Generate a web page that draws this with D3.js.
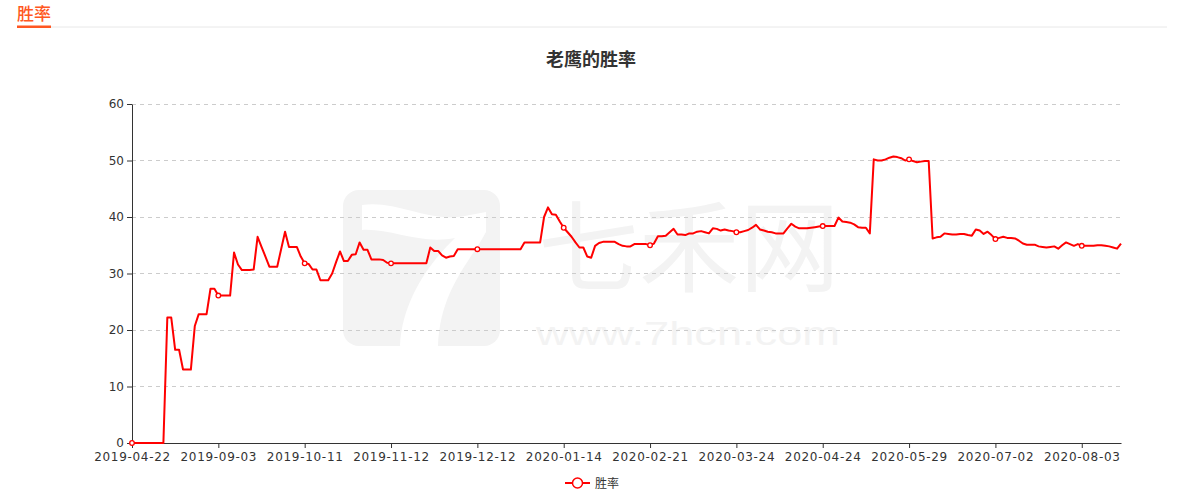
<!DOCTYPE html>
<html><head><meta charset="utf-8">
<script src="https://cdn.jsdelivr.net/npm/d3@7"></script>
<style>
body{margin:0;background:#fff;}
svg{display:block;font-family:"Noto Sans CJK SC","Noto Sans",sans-serif;}
</style>
</head><body>
<svg id="c" width="1180" height="500"></svg>
<script>
const headerText = "胜率";
const chartTitle = "老鹰的胜率";
const seriesName = "胜率";
const tickLabels = ["2019-04-22","2019-09-03","2019-10-11","2019-11-12","2019-12-12","2020-01-14","2020-02-21","2020-03-24","2020-04-24","2020-05-29","2020-07-02","2020-08-03"];
const labelInterval = 22;
const yTicks = [0,10,20,30,40,50,60];
const winRate = [
  0,0,0,0,0,0,0,0,0,
  22.2,22.2,16.5,16.5,13.0,13.0,13.0,20.7,22.8,22.8,22.8,27.3,27.3,
  26.1,26.1,26.1,26.1,33.7,31.6,30.6,30.6,30.6,30.7,
  36.5,34.7,33.0,31.2,31.2,31.2,34.3,37.4,34.7,34.7,34.7,33.0,
  31.8,31.7,30.7,30.7,28.8,28.8,28.8,30.0,32.0,33.9,32.2,32.2,
  33.3,33.4,35.5,34.2,34.2,32.5,32.5,32.5,32.4,31.9,
  31.8,31.8,31.8,31.8,31.8,31.8,31.8,31.8,31.8,31.8,
  34.6,34.0,34.0,33.2,32.8,33.0,33.1,34.3,
  34.3,34.3,34.3,34.3,34.3,34.3,34.3,34.3,34.3,34.3,34.3,34.3,34.3,34.3,34.3,34.3,
  35.5,35.5,35.5,35.5,35.5,
  40.0,41.7,40.5,40.4,39.2,38.1,37.3,36.5,35.5,34.6,34.6,33.0,32.8,
  34.9,35.4,35.6,35.6,35.6,35.6,35.2,34.9,34.8,34.8,35.2,35.2,35.2,35.2,35.0,35.3,
  36.6,36.6,36.7,37.3,37.9,36.9,36.9,36.8,37.1,37.1,37.4,37.5,37.3,37.1,38.0,37.9,37.6,37.8,37.6,37.5,37.3,
  37.3,37.5,37.7,38.1,38.6,37.8,37.6,37.4,37.3,37.1,37.1,37.1,38.0,38.8,38.3,38.0,38.0,38.0,38.1,38.2,38.3,38.4,38.4,38.4,38.4,39.9,39.2,39.1,39.0,38.7,38.2,38.1,38.1,37.1,
  50.2,50.0,50.0,50.2,50.5,50.7,50.6,50.4,50.0,50.2,49.9,49.7,49.8,49.9,49.9,
  36.2,36.4,36.5,37.1,37.0,36.9,36.9,37.0,37.0,36.8,36.7,37.8,37.6,37.0,37.4,36.8,36.1,
  36.3,36.5,36.3,36.3,36.2,35.8,35.3,35.1,35.1,35.1,34.8,34.7,34.6,34.7,34.8,34.4,35.0,35.5,35.2,34.9,35.2,34.9,34.9,34.9,34.9,35.0,35.0,34.9,34.8,34.6,34.4,35.3
];
const watermarkBig = "七禾网";
const watermarkUrl = "www.7hcn.com";

const svg = d3.select("#c");
const L = 132, R = 1121, T = 104, B = 443;
const idx = d3.range(winRate.length);
const x = d3.scalePoint().domain(idx).range([L, R]);
const y = d3.scaleLinear().domain([0, 60]).range([B, T]);

// header
svg.append("text").attr("x", 17).attr("y", 20).attr("fill", "#ff5722")
  .attr("font-size", 17).attr("font-weight", 500).text(headerText);
svg.append("line").attr("x1", 51).attr("x2", 1167).attr("y1", 27).attr("y2", 27)
  .attr("stroke", "#e8e8e8").attr("stroke-width", 1);
svg.append("rect").attr("x", 17).attr("y", 25.5).attr("width", 34).attr("height", 2.5).attr("fill", "#ff5722");

// watermark
const wm = svg.append("g").attr("fill", "#f3f3f3");
wm.append("rect").attr("x", 343).attr("y", 190).attr("width", 157).attr("height", 156).attr("rx", 16);
wm.append("path").attr("fill", "#fff")
  .attr("d", "M362,205 C400,200 430,225 470,215 L486,212 L486,232 C470,262 440,290 438,346 L400,346 C402,300 430,262 455,238 C420,245 390,228 362,230 Z");
wm.append("text").attr("x", 538).attr("y", 284).attr("font-size", 100)
  .attr("textLength", 302).attr("lengthAdjust", "spacingAndGlyphs").text(watermarkBig);
wm.append("text").attr("x", 536).attr("y", 345).attr("font-size", 34)
  .attr("font-family", "Liberation Sans").attr("textLength", 304).attr("lengthAdjust", "spacingAndGlyphs").text(watermarkUrl);

// title
svg.append("text").attr("x", 591).attr("y", 66).attr("text-anchor", "middle")
  .attr("font-size", 18).attr("font-weight", "bold").attr("fill", "#333").text(chartTitle);

// grid
svg.append("g").selectAll("line").data(yTicks.filter(v => v > 0)).join("line")
  .attr("x1", L).attr("x2", R).attr("y1", d => y(d)).attr("y2", d => y(d))
  .attr("stroke", "#ccc").attr("stroke-dasharray", "4,4").attr("shape-rendering", "crispEdges");

// axes
const tickIdx = d3.range(0, winRate.length, labelInterval);
const xAxis = svg.append("g").attr("transform", `translate(0,${B})`)
  .call(d3.axisBottom(x).tickValues(tickIdx).tickFormat(i => tickLabels[i / labelInterval]).tickSize(5).tickSizeOuter(0).tickPadding(4));
const yAxis = svg.append("g").attr("transform", `translate(${L},0)`)
  .call(d3.axisLeft(y).tickValues(yTicks).tickSize(5).tickSizeOuter(0).tickPadding(3));
[xAxis, yAxis].forEach(g => {
  g.select(".domain").attr("stroke", "#333");
  g.selectAll(".tick line").attr("stroke", "#333");
  g.selectAll(".tick text").attr("fill", "#333").attr("font-size", 12).attr("font-family", "DejaVu Sans");
});
xAxis.selectAll(".tick text").attr("letter-spacing", 0.7);

// line
const line = d3.line().x((d, i) => x(i)).y(d => y(d));
svg.append("path").datum(winRate).attr("d", line).attr("fill", "none")
  .attr("stroke", "#ff0000").attr("stroke-width", 2).attr("stroke-linejoin", "round");
svg.append("g").selectAll("circle").data(tickIdx).join("circle")
  .attr("cx", i => x(i)).attr("cy", i => y(winRate[i])).attr("r", 2.3)
  .attr("fill", "#fff").attr("stroke", "#ff0000").attr("stroke-width", 1.3);

// legend
const lg = svg.append("g");
lg.append("line").attr("x1", 565).attr("x2", 590).attr("y1", 483).attr("y2", 483).attr("stroke", "#ff0000").attr("stroke-width", 2);
lg.append("circle").attr("cx", 577.5).attr("cy", 483).attr("r", 5).attr("fill", "#fff").attr("stroke", "#ff0000").attr("stroke-width", 1.5);
lg.append("text").attr("x", 595).attr("y", 487.5).attr("font-size", 12).attr("fill", "#333").text(seriesName);
</script>
</body></html>
